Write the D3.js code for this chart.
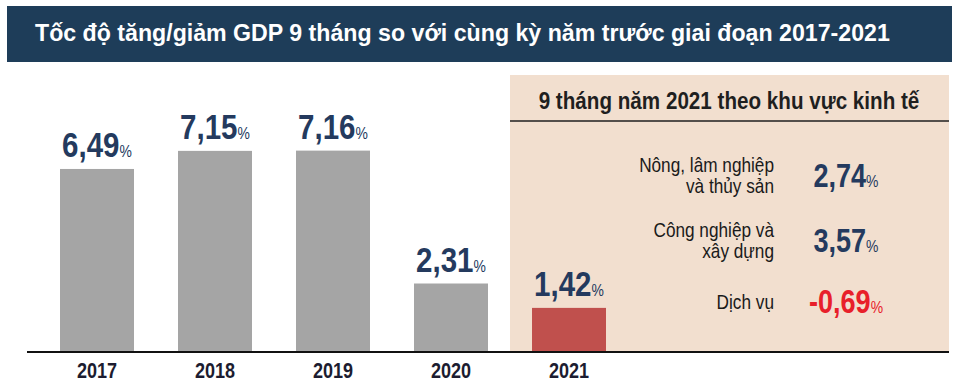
<!DOCTYPE html>
<html><head><meta charset="utf-8">
<script src="https://cdn.jsdelivr.net/npm/d3@7"></script>
<style>
body{margin:0;background:#fff;}
svg{display:block;}
</style></head>
<body><svg id="c" width="958" height="391"></svg>
<script>
const title = "Tốc độ tăng/giảm GDP 9 tháng so với cùng kỳ năm trước giai đoạn 2017-2021";
const years = ["2017","2018","2019","2020","2021"];
const values = [6.49, 7.15, 7.16, 2.31, 1.42];
const panelTitle = "9 tháng năm 2021 theo khu vực kinh tế";
const sectors = [["Nông, lâm nghiệp","và thủy sản"],["Công nghiệp và","xây dựng"],["Dịch vụ"]];
const sectorValues = [2.74, 3.57, -0.69];

const fmt = v => (v < 0 ? "-" : "") + d3.format(".2f")(Math.abs(v)).replace(".", ",");
const FONT = "'Liberation Sans',Arial,sans-serif";
const SX = 0.82; // narrow font emulation
const svg = d3.select("#c");
const place = (sel, x, y, sx = SX) => sel.attr("transform", `translate(${x},${y}) scale(${sx},1)`);

// title bar
svg.append("rect").attr("x",7).attr("y",6).attr("width",945).attr("height",56).attr("fill","#1e3d59");
const tt = svg.append("text").attr("fill","#fff")
  .attr("font-family",FONT).attr("font-weight","bold").attr("font-size",24).text(title);
const tw = tt.node().getComputedTextLength();
place(tt, 35, 41, 855 / tw);

// right panel
const px0 = 510, px1 = 949, py0 = 75, baseY = 352;
svg.append("rect").attr("x",px0).attr("y",py0).attr("width",px1-px0).attr("height",baseY-py0).attr("fill","#f2dfcf");
place(svg.append("text").attr("text-anchor","middle").attr("fill","#1f1f1f")
  .attr("font-family",FONT).attr("font-weight","bold").attr("font-size",24).text(panelTitle), 729, 109, 0.86);
svg.append("line").attr("x1",px0).attr("x2",px1).attr("y1",121).attr("y2",121).attr("stroke","#1f1f1f").attr("stroke-width",1.5);

// bars
const x = d3.scaleBand().domain(years).range([36.4, 629.6]).paddingInner(0.373).paddingOuter(0.2);
const y = d3.scaleLinear().domain([-0.19, 8]).range([baseY, baseY - 8.19*27.4]);

svg.selectAll("rect.bar").data(years).join("rect").attr("class","bar")
  .attr("x", d => x(d)).attr("width", x.bandwidth())
  .attr("y", (d,i) => y(values[i])).attr("height", (d,i) => baseY - y(values[i]))
  .attr("fill", (d,i) => i === years.length-1 ? "#c0504d" : "#a5a5a5");

svg.selectAll("text.val").data(years).join("text").attr("class","val")
  .attr("text-anchor","middle").attr("fill","#243a5e").attr("font-family",FONT)
  .each(function(d,i){
    const t = d3.select(this);
    t.append("tspan").attr("font-weight","bold").attr("font-size",36).text(fmt(values[i]));
    t.append("tspan").attr("font-size",17).text("%");
    place(t, x(d) + x.bandwidth()/2, y(values[i]) - 12);
  });

// axis
const ax = svg.append("g").attr("transform",`translate(0,${baseY})`)
  .call(d3.axisBottom(x).tickSize(0).tickPadding(0));
ax.select(".domain").remove();
ax.selectAll("text").attr("dy",null).attr("y",0)
  .attr("font-family",FONT).attr("font-weight","bold").attr("font-size",22).attr("fill","#1c1c30")
  .attr("transform",`translate(0,26) scale(${SX},1)`);
svg.append("line").attr("x1",27).attr("x2",px1).attr("y1",baseY).attr("y2",baseY).attr("stroke","#111").attr("stroke-width",2);

// sectors
const rowY = [187, 252, 313];
sectors.forEach((lines, i) => {
  const t = svg.append("text").attr("text-anchor","end").attr("fill","#1a1a1a")
    .attr("font-family",FONT).attr("font-size",21);
  const first = lines.length === 1 ? -4 : -15;
  lines.forEach((l, j) => t.append("tspan").attr("x",0).attr("y", first + j*21).text(l));
  place(t, 774, rowY[i]);
  const v = svg.append("text").attr("text-anchor","middle")
    .attr("fill", sectorValues[i] < 0 ? "#e8202a" : "#243a5e").attr("font-family",FONT);
  v.append("tspan").attr("font-weight","bold").attr("font-size",33).text(fmt(sectorValues[i]));
  v.append("tspan").attr("font-size",17).text("%");
  place(v, 846, rowY[i]);
});
</script></body></html>
